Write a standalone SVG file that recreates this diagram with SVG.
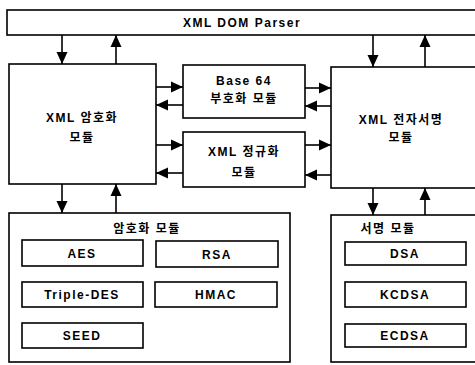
<svg xmlns="http://www.w3.org/2000/svg" width="475" height="365" viewBox="0 0 475 365">
<style>
.b{fill:#fff;stroke:#000;stroke-width:1.6}
.c{fill:none;stroke:#000;stroke-width:1.6}
text{font-family:"Liberation Sans","Noto Sans CJK KR",sans-serif;font-weight:bold;font-size:12px;text-anchor:middle;fill:#000;letter-spacing:1.5px}
</style>
<defs>
<marker id="a" viewBox="0 0 12 12" refX="12" refY="6" markerWidth="12" markerHeight="12" markerUnits="userSpaceOnUse" orient="auto">
<path d="M0,0.5 L12,6 L0,11.5 Z" fill="#000"/>
</marker>
</defs>
<rect width="475" height="365" fill="#fff"/>
<g id="connectors">
<line class="c" x1="62" y1="35" x2="62" y2="64" marker-end="url(#a)"/>
<line class="c" x1="116" y1="64" x2="116" y2="35" marker-end="url(#a)"/>
<line class="c" x1="373" y1="35" x2="373" y2="67" marker-end="url(#a)"/>
<line class="c" x1="425" y1="67" x2="425" y2="35" marker-end="url(#a)"/>
<line class="c" x1="156" y1="87" x2="183" y2="87" marker-end="url(#a)"/>
<line class="c" x1="183" y1="105" x2="156" y2="105" marker-end="url(#a)"/>
<line class="c" x1="305" y1="88" x2="331" y2="88" marker-end="url(#a)"/>
<line class="c" x1="331" y1="106" x2="305" y2="106" marker-end="url(#a)"/>
<line class="c" x1="156" y1="145" x2="183" y2="145" marker-end="url(#a)"/>
<line class="c" x1="183" y1="173" x2="156" y2="173" marker-end="url(#a)"/>
<line class="c" x1="305" y1="145" x2="331" y2="145" marker-end="url(#a)"/>
<line class="c" x1="331" y1="175" x2="305" y2="175" marker-end="url(#a)"/>
<line class="c" x1="62" y1="184" x2="62" y2="213" marker-end="url(#a)"/>
<line class="c" x1="116" y1="213" x2="116" y2="184" marker-end="url(#a)"/>
<line class="c" x1="373" y1="188" x2="373" y2="215" marker-end="url(#a)"/>
<line class="c" x1="425" y1="215" x2="425" y2="188" marker-end="url(#a)"/>
</g>
<g id="parser"><rect class="b" x="7" y="10" width="475" height="25"/><text x="242" y="27">XML DOM Parser</text></g>
<g id="enc"><rect class="b" x="9" y="64" width="147" height="120"/><text x="82" y="122">XML 암호화</text><text x="82" y="142">모듈</text></g>
<g id="base64"><rect class="b" x="183" y="65" width="122" height="53"/><text x="244" y="85">Base 64</text><text x="244" y="103">부호화 모듈</text></g>
<g id="c14n"><rect class="b" x="183" y="132" width="122" height="55"/><text x="244" y="156">XML 정규화</text><text x="244" y="177">모듈</text></g>
<g id="sig"><rect class="b" x="331" y="67" width="150" height="121"/><text x="401" y="124">XML 전자서명</text><text x="401" y="142">모듈</text></g>
<g id="encmods"><rect class="b" x="9" y="213" width="281" height="149"/><text x="147" y="233">암호화 모듈</text></g>
<g id="aes"><rect class="b" x="22" y="240" width="121" height="26"/><text x="82" y="258">AES</text></g>
<g id="rsa"><rect class="b" x="156" y="241" width="122" height="26"/><text x="217" y="259">RSA</text></g>
<g id="tdes"><rect class="b" x="22" y="282" width="121" height="25"/><text x="82" y="299">Triple-DES</text></g>
<g id="hmac"><rect class="b" x="155" y="282" width="122" height="25"/><text x="216" y="299">HMAC</text></g>
<g id="seed"><rect class="b" x="22" y="323" width="121" height="25"/><text x="82" y="340">SEED</text></g>
<g id="sigmods"><rect class="b" x="331" y="215" width="150" height="147"/><text x="388" y="233">서명 모듈</text></g>
<g id="dsa"><rect class="b" x="345" y="242" width="121" height="23"/><text x="405" y="258">DSA</text></g>
<g id="kcdsa"><rect class="b" x="345" y="282" width="121" height="25"/><text x="405" y="299">KCDSA</text></g>
<g id="ecdsa"><rect class="b" x="345" y="324" width="121" height="23"/><text x="405" y="340">ECDSA</text></g>
</svg>
